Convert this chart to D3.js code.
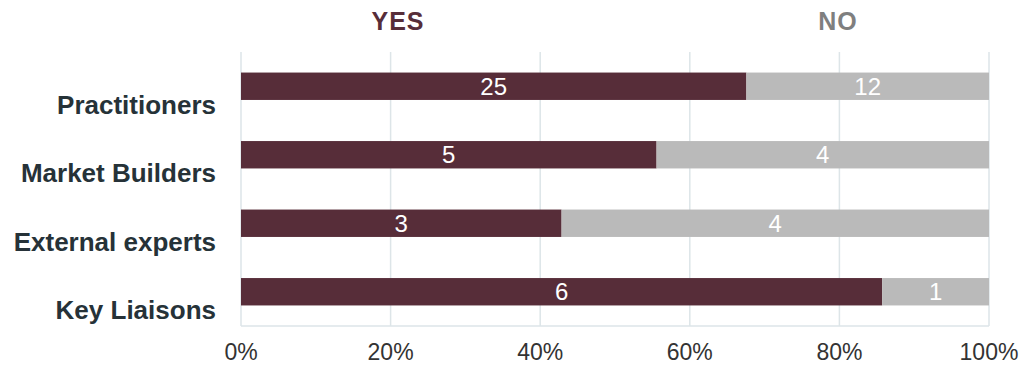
<!DOCTYPE html>
<html>
<head>
<meta charset="utf-8">
<script src="https://cdn.jsdelivr.net/npm/d3@7"></script>
<style>
  body { margin: 0; background: #fff; }
  svg text { font-family: "Liberation Sans", Arial, sans-serif; }
</style>
</head>
<body>
<svg id="chart" width="1025" height="366"></svg>
<script>
// data
const categories = ["Practitioners", "Market Builders", "External experts", "Key Liaisons"];
const yesValues = [25, 5, 3, 6];
const noValues = [12, 4, 4, 1];
const tickValues = [0, 0.2, 0.4, 0.6, 0.8, 1];

const margin = { top: 52, right: 36, bottom: 40, left: 241 };
const width = 1025, height = 366;

const svg = d3.select("#chart");

const x = d3.scaleLinear().domain([0, 1]).range([margin.left, width - margin.right]);
const y = d3.scaleBand().domain(categories).range([margin.top, height - margin.bottom]).paddingInner(0.6).paddingOuter(0.3);

// gridlines
svg.append("g")
  .selectAll("line")
  .data(tickValues)
  .join("line")
  .attr("x1", d => x(d)).attr("x2", d => x(d))
  .attr("y1", margin.top).attr("y2", height - margin.bottom)
  .attr("stroke", "#dde5e8").attr("stroke-width", 1.5);

svg.append("line")
  .attr("x1", x(0)).attr("x2", x(1))
  .attr("y1", height - margin.bottom).attr("y2", height - margin.bottom)
  .attr("stroke", "#dde5e8").attr("stroke-width", 1.5);

// stacked rows
const rows = categories.map((c, i) => {
  const total = yesValues[i] + noValues[i];
  return { cat: c, yes: yesValues[i], no: noValues[i], yesShare: yesValues[i] / total };
});

const g = svg.append("g");
g.selectAll("rect.yes")
  .data(rows)
  .join("rect")
  .attr("class", "yes")
  .attr("x", x(0))
  .attr("y", d => y(d.cat))
  .attr("width", d => x(d.yesShare) - x(0))
  .attr("height", y.bandwidth())
  .attr("fill", "#572d39");

g.selectAll("rect.no")
  .data(rows)
  .join("rect")
  .attr("class", "no")
  .attr("x", d => x(d.yesShare))
  .attr("y", d => y(d.cat))
  .attr("width", d => x(1) - x(d.yesShare))
  .attr("height", y.bandwidth())
  .attr("fill", "#bababa");

// value labels
g.selectAll("text.yesLabel")
  .data(rows)
  .join("text")
  .attr("x", d => (x(0) + x(d.yesShare)) / 2)
  .attr("y", d => y(d.cat) + y.bandwidth() / 2)
  .attr("dy", "0.36em")
  .attr("text-anchor", "middle")
  .attr("fill", "#fff")
  .style("font-size", "24px")
  .text(d => d.yes);

g.selectAll("text.noLabel")
  .data(rows)
  .join("text")
  .attr("x", d => (x(d.yesShare) + x(1)) / 2)
  .attr("y", d => y(d.cat) + y.bandwidth() / 2)
  .attr("dy", "0.36em")
  .attr("text-anchor", "middle")
  .attr("fill", "#fff")
  .style("font-size", "24px")
  .text(d => d.no);

// category labels
svg.append("g")
  .selectAll("text")
  .data(categories)
  .join("text")
  .attr("x", 216)
  .attr("y", d => y(d) + y.bandwidth() / 2 + 27.5)
  .attr("text-anchor", "end")
  .attr("fill", "#263238")
  .style("font-size", "26px")
  .style("font-weight", "bold")
  .text(d => d);

// x tick labels
svg.append("g")
  .selectAll("text")
  .data(tickValues)
  .join("text")
  .attr("x", d => x(d))
  .attr("y", 360)
  .attr("text-anchor", "middle")
  .attr("fill", "#333")
  .style("font-size", "23px")
  .text(d3.format(".0%"));

// headers
svg.append("text")
  .attr("x", 398).attr("y", 30)
  .attr("text-anchor", "middle")
  .attr("fill", "#572d39")
  .style("font-size", "25px").style("font-weight", "bold")
  .style("letter-spacing", "1px")
  .text("YES");
svg.append("text")
  .attr("x", 838).attr("y", 30)
  .attr("text-anchor", "middle")
  .attr("fill", "#7f7f7f")
  .style("font-size", "25px").style("font-weight", "bold")
  .style("letter-spacing", "1px")
  .text("NO");
</script>
</body>
</html>
